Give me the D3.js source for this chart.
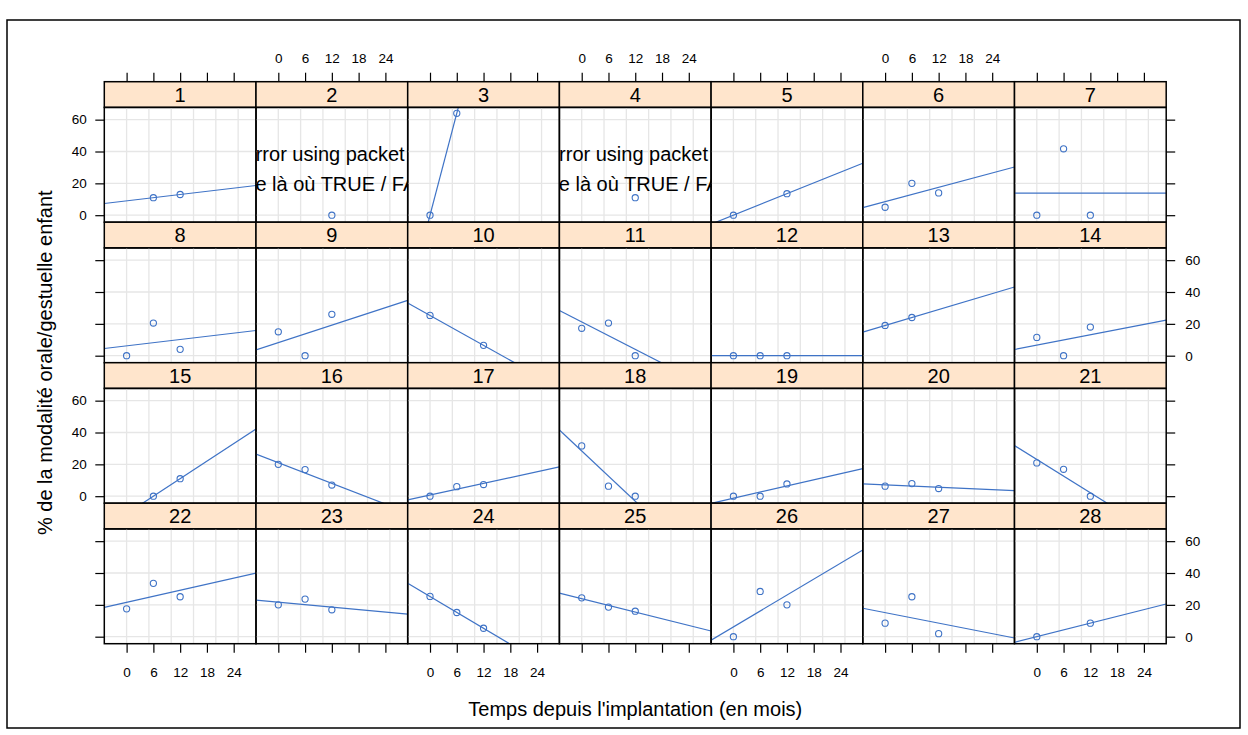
<!DOCTYPE html>
<html>
<head>
<meta charset="utf-8">
<script src="https://cdn.jsdelivr.net/npm/d3@7/dist/d3.min.js"></script>
<style>
  body { margin: 0; background: #fff; }
  svg text { font-family: "Liberation Sans", Arial, Helvetica, sans-serif; fill: #000; }
</style>
</head>
<body>
<script>
// valeurs (une liste par enfant)
const panelLabels = d3.range(1, 29).map(String);
const timeByPanel = [
  [6, 12], [12], [0, 6], [12], [0, 12], [0, 6, 12], [0, 6, 12],
  [0, 6, 12], [0, 6, 12], [0, 12], [0, 6, 12], [0, 6, 12], [0, 6], [0, 6, 12],
  [6, 12], [0, 6, 12], [0, 6, 12], [0, 6, 12], [0, 6, 12], [0, 6, 12], [0, 6, 12],
  [0, 6, 12], [0, 6, 12], [0, 6, 12], [0, 6, 12], [0, 6, 12], [0, 6, 12], [0, 12]
];
const pctByPanel = [
  [11, 13], [0], [0, 64], [11], [0, 13.5], [5, 20, 14], [0, 41.7, 0],
  [0, 20.5, 4], [15, 0, 26], [25.3, 6.5], [17.2, 20.5, 0], [0, 0, 0], [19, 24], [11.5, 0, 18],
  [0, 11], [20, 16.7, 7], [0, 6, 7.3], [31.6, 6.3, 0], [0, 0, 7.7], [6.3, 7.9, 4.8], [20.9, 16.9, 0],
  [17.5, 33.5, 25.1], [20, 23.6, 16.9], [25.3, 15.2, 5.3], [24.4, 18.6, 16], [0, 28.4, 20], [8.5, 25.1, 1.9], [0, 8.5]
];
const errorPanels = ["2", "4"];
const errorText = ["Error using packet ", "valeur manquante là où TRUE / FALSE est requis"];
const xTicks = [0, 6, 12, 18, 24];
const yTicks = [0, 20, 40, 60];
const xGrid = [0, 5, 10, 15, 20, 25];
const xTitle = "Temps depuis l'implantation (en mois)";
const yTitle = "% de la modalité orale/gestuelle enfant";

const lattice = (() => {
  var initModule, configMap, drawPanel, lmFit, trimToPanel;

  configMap = {
    width: 1248, height: 735,
    left: 104.3, top: 81.7,
    panelW: 151.7, stripH: 25.7, panelH: 114.8,
    nCol: 7, nRow: 4,
    tick: 9,
    blue: "#3f73c6",
    strip: "#ffe5cc",
    grid: "#e6e6e6"
  };

  // droite des moindres carrés (panel.lmline)
  lmFit = (xs, ys) => {
    const mx = d3.mean(xs), my = d3.mean(ys);
    const sxx = d3.sum(xs, v => (v - mx) * (v - mx));
    if (!sxx) return null;
    const b = d3.sum(xs, (v, i) => (v - mx) * (ys[i] - my)) / sxx;
    return { a: my - b * mx, b: b };
  };

  // le message d'erreur déborde du panneau : on ne garde que les caractères visibles
  trimToPanel = (node, w) => {
    const s = node.textContent;
    let first = -1, last = -1;
    for (let k = 0; k < s.length; k++) {
      const a = node.getStartPositionOfChar(k).x, b = node.getEndPositionOfChar(k).x;
      if (b > 0 && a < w) { if (first < 0) first = k; last = k; }
    }
    if (first < 0) return;
    const x0 = node.getStartPositionOfChar(first).x;
    d3.select(node)
      .attr("text-anchor", "start")
      .attr("x", x0).attr("dx", null)
      .text(s.slice(first, last + 1));
  };

  initModule = () => {
    const c = configMap;
    const rowH = c.stripH + c.panelH;

    const x = d3.scaleLinear().domain([-5, 29]).range([0, c.panelW]);
    const y = d3.scaleLinear().domain([-4.4, 67.7]).range([c.panelH, 0]);

    const svg = d3.select("body").append("svg")
      .attr("width", c.width)
      .attr("height", c.height);

    svg.append("rect")
      .attr("x", 7).attr("y", 20)
      .attr("width", 1233).attr("height", 708)
      .attr("fill", "none").attr("stroke", "#000").attr("stroke-width", 1.5);

    const defs = svg.append("defs");
    defs.append("clipPath").attr("id", "clipPanel")
      .append("rect").attr("width", c.panelW).attr("height", c.panelH);

    panelLabels.forEach((lab, i) => {
      const col = i % c.nCol, row = Math.floor(i / c.nCol);
      const g = svg.append("g")
        .attr("transform", `translate(${c.left + col * c.panelW},${c.top + row * rowH})`);
      drawPanel(g, lab, timeByPanel[i], pctByPanel[i], x, y);
    });

    // axes alternés à la lattice
    const gridBottom = c.top + c.nRow * rowH;
    d3.range(c.nCol).forEach(col => {
      const x0 = c.left + col * c.panelW;
      svg.append("g")
        .attr("class", "axis")
        .attr("transform", `translate(${x0},${c.top})`)
        .call(d3.axisTop(x).tickValues(xTicks).tickSize(c.tick).tickPadding(9.5)
          .tickFormat(col % 2 === 1 ? d3.format("d") : () => ""));
      svg.append("g")
        .attr("class", "axis")
        .attr("transform", `translate(${x0},${gridBottom})`)
        .call(d3.axisBottom(x).tickValues(xTicks).tickSize(c.tick).tickPadding(15)
          .tickFormat(col % 2 === 0 ? d3.format("d") : () => ""));
    });
    d3.range(c.nRow).forEach(row => {
      const y0 = c.top + row * rowH + c.stripH;
      svg.append("g")
        .attr("class", "axis")
        .attr("transform", `translate(${c.left},${y0})`)
        .call(d3.axisLeft(y).tickValues(yTicks).tickSize(c.tick).tickPadding(8.5)
          .tickFormat(row % 2 === 0 ? d3.format("d") : () => ""));
      svg.append("g")
        .attr("class", "axis")
        .attr("transform", `translate(${c.left + c.nCol * c.panelW},${y0})`)
        .call(d3.axisRight(y).tickValues(yTicks).tickSize(c.tick).tickPadding(10)
          .tickFormat(row % 2 === 1 ? d3.format("d") : () => ""));
    });

    svg.selectAll(".axis .domain").remove();
    svg.selectAll(".axis line").attr("stroke", "#000").attr("stroke-width", 1.2);
    svg.selectAll(".axis text").attr("font-size", 13.5).attr("fill", "#000")
      .attr("font-family", '"Liberation Sans", Arial, sans-serif');

    svg.append("text")
      .attr("x", c.left + c.nCol * c.panelW / 2)
      .attr("y", 716)
      .attr("text-anchor", "middle")
      .attr("font-size", 20)
      .text(xTitle);

    svg.append("text")
      .attr("transform", `translate(51.5,${c.top + c.nRow * rowH / 2}) rotate(-90)`)
      .attr("text-anchor", "middle")
      .attr("font-size", 20)
      .text(yTitle);

    return "lattice initialized.";
  };

  drawPanel = (g, lab, xs, ys, x, y) => {
    const c = configMap;

    const strip = g.append("g");
    strip.append("rect")
      .attr("width", c.panelW).attr("height", c.stripH)
      .attr("fill", c.strip).attr("stroke", "#000").attr("stroke-width", 1.5);
    strip.append("text")
      .attr("x", c.panelW / 2).attr("y", c.stripH / 2 + 7.2)
      .attr("text-anchor", "middle")
      .attr("font-size", 20)
      .text(lab);

    const p = g.append("g").attr("transform", `translate(0,${c.stripH})`);
    const inner = p.append("g").attr("clip-path", "url(#clipPanel)");

    inner.selectAll("line.v")
      .data(xGrid).enter().append("line")
      .attr("class", "v")
      .attr("x1", d => x(d)).attr("x2", d => x(d))
      .attr("y1", 0).attr("y2", c.panelH)
      .attr("stroke", c.grid).attr("stroke-width", 1.3);
    inner.selectAll("line.h")
      .data(yTicks).enter().append("line")
      .attr("class", "h")
      .attr("x1", 0).attr("x2", c.panelW)
      .attr("y1", d => y(d)).attr("y2", d => y(d))
      .attr("stroke", c.grid).attr("stroke-width", 1.3);

    const pts = xs.map((v, i) => [v, ys[i]]);
    inner.selectAll("circle")
      .data(pts).enter().append("circle")
      .attr("cx", d => x(d[0])).attr("cy", d => y(d[1]))
      .attr("r", 3.1)
      .attr("fill", "none").attr("stroke", c.blue).attr("stroke-width", 1.1);

    if (errorPanels.includes(lab)) {
      inner.selectAll("text.err")
        .data([errorText[0] + lab, errorText[1]]).enter().append("text")
        .attr("class", "err")
        .attr("x", (d, i) => c.panelW / 2 - i * 5.5)
        .attr("y", (d, i) => 54 + i * 30)
        .attr("text-anchor", "middle")
        .attr("font-size", 20)
        .text(d => d)
        .each(function () { trimToPanel(this, c.panelW); });
    } else {
      const fit = lmFit(xs, ys);
      if (fit) {
        const [d0, d1] = x.domain();
        inner.append("line")
          .attr("x1", x(d0)).attr("y1", y(fit.a + fit.b * d0))
          .attr("x2", x(d1)).attr("y2", y(fit.a + fit.b * d1))
          .attr("stroke", c.blue).attr("stroke-width", 1.2);
      }
    }

    p.append("rect")
      .attr("width", c.panelW).attr("height", c.panelH)
      .attr("fill", "none").attr("stroke", "#000").attr("stroke-width", 1.5);
  };

  return { initModule: initModule };
})();

lattice.initModule();
</script>
</body>
</html>
